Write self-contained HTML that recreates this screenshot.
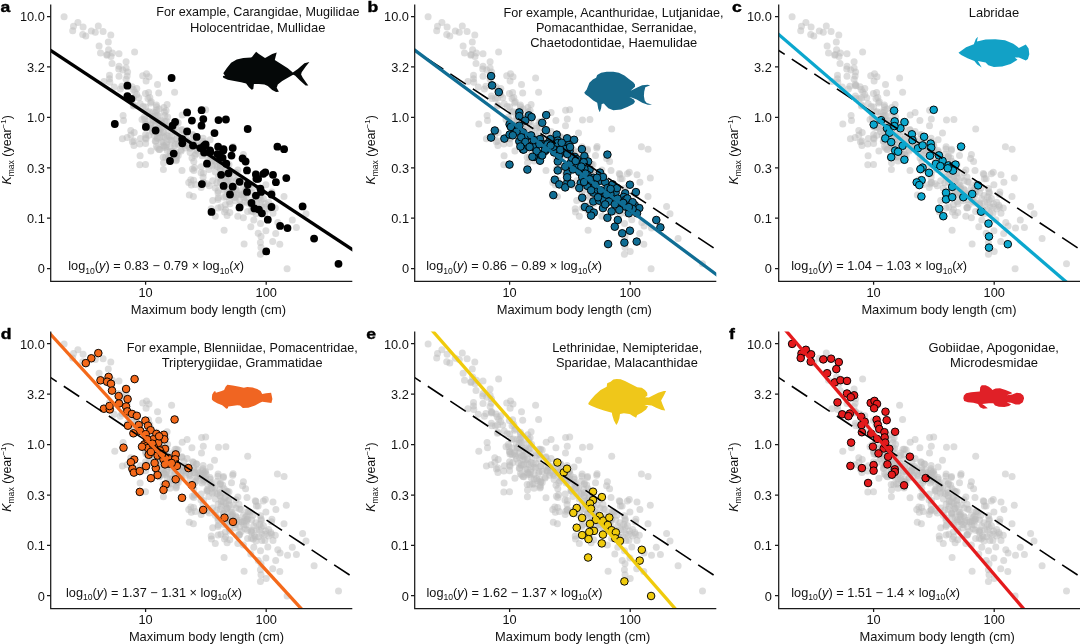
<!DOCTYPE html>
<html><head><meta charset="utf-8"><title>Figure</title>
<style>
html,body{margin:0;padding:0;background:#fff}
svg{display:block;will-change:transform}
text{font-family:"Liberation Sans",Arial,Helvetica,sans-serif;fill:#111}
.t{font-size:12.4px}
.lab{font-size:15.3px;font-weight:bold;fill:#000;stroke:#000;stroke-width:0.4px}
.ax{stroke:#1a1a1a;stroke-width:1.25;fill:none}
.g circle{fill:#bcbcbc;fill-opacity:0.5}
.dash{stroke:#000;stroke-width:1.6;stroke-dasharray:18.5 8.5;stroke-dashoffset:2.35;fill:none}
</style></head><body>
<svg width="1080" height="644" viewBox="0 0 1080 644">
<rect width="1080" height="644" fill="#fff"/>
<defs><clipPath id="cp"><rect x="50.7" y="4.4" width="301.6" height="277.0"/></clipPath>
<g id="grey" class="g">
<circle cx="171.6" cy="78.0" r="3.5"/>
<circle cx="127.4" cy="85.7" r="3.5"/>
<circle cx="127.4" cy="96.1" r="3.5"/>
<circle cx="131.4" cy="98.8" r="3.5"/>
<circle cx="114.8" cy="124.0" r="3.5"/>
<circle cx="145.9" cy="126.9" r="3.5"/>
<circle cx="155.6" cy="130.5" r="3.5"/>
<circle cx="187.1" cy="112.4" r="3.5"/>
<circle cx="201.6" cy="110.2" r="3.5"/>
<circle cx="191.9" cy="120.6" r="3.5"/>
<circle cx="203.3" cy="119.1" r="3.5"/>
<circle cx="201.5" cy="125.7" r="3.5"/>
<circle cx="218.5" cy="120.1" r="3.5"/>
<circle cx="225.9" cy="119.5" r="3.5"/>
<circle cx="247.7" cy="129.0" r="3.5"/>
<circle cx="214.5" cy="133.1" r="3.5"/>
<circle cx="175.1" cy="122.0" r="3.5"/>
<circle cx="172.6" cy="125.7" r="3.5"/>
<circle cx="187.1" cy="131.4" r="3.5"/>
<circle cx="196.7" cy="136.9" r="3.5"/>
<circle cx="182.2" cy="139.1" r="3.5"/>
<circle cx="173.7" cy="153.6" r="3.5"/>
<circle cx="170.0" cy="161.0" r="3.5"/>
<circle cx="182.3" cy="143.3" r="3.5"/>
<circle cx="193.0" cy="145.6" r="3.5"/>
<circle cx="200.4" cy="148.1" r="3.5"/>
<circle cx="205.6" cy="144.4" r="3.5"/>
<circle cx="204.1" cy="152.6" r="3.5"/>
<circle cx="210.0" cy="150.4" r="3.5"/>
<circle cx="207.0" cy="163.7" r="3.5"/>
<circle cx="218.1" cy="146.7" r="3.5"/>
<circle cx="223.3" cy="150.4" r="3.5"/>
<circle cx="217.4" cy="154.1" r="3.5"/>
<circle cx="222.6" cy="157.8" r="3.5"/>
<circle cx="226.3" cy="163.7" r="3.5"/>
<circle cx="232.7" cy="148.1" r="3.5"/>
<circle cx="231.5" cy="155.6" r="3.5"/>
<circle cx="242.6" cy="158.5" r="3.5"/>
<circle cx="245.6" cy="161.5" r="3.5"/>
<circle cx="247.0" cy="170.4" r="3.5"/>
<circle cx="277.4" cy="146.7" r="3.5"/>
<circle cx="284.1" cy="149.2" r="3.5"/>
<circle cx="221.1" cy="174.8" r="3.5"/>
<circle cx="228.5" cy="173.3" r="3.5"/>
<circle cx="201.9" cy="184.1" r="3.5"/>
<circle cx="223.6" cy="185.9" r="3.5"/>
<circle cx="232.7" cy="186.7" r="3.5"/>
<circle cx="239.6" cy="181.8" r="3.5"/>
<circle cx="247.8" cy="184.4" r="3.5"/>
<circle cx="230.0" cy="194.5" r="3.5"/>
<circle cx="247.0" cy="191.9" r="3.5"/>
<circle cx="255.9" cy="174.4" r="3.5"/>
<circle cx="258.1" cy="178.8" r="3.5"/>
<circle cx="265.3" cy="172.3" r="3.5"/>
<circle cx="273.0" cy="174.8" r="3.5"/>
<circle cx="275.9" cy="182.2" r="3.5"/>
<circle cx="286.3" cy="178.1" r="3.5"/>
<circle cx="260.4" cy="188.6" r="3.5"/>
<circle cx="255.9" cy="195.6" r="3.5"/>
<circle cx="261.1" cy="191.9" r="3.5"/>
<circle cx="271.5" cy="194.5" r="3.5"/>
<circle cx="251.5" cy="203.0" r="3.5"/>
<circle cx="239.6" cy="207.4" r="3.5"/>
<circle cx="211.5" cy="211.9" r="3.5"/>
<circle cx="254.4" cy="208.4" r="3.5"/>
<circle cx="258.9" cy="209.6" r="3.5"/>
<circle cx="261.9" cy="213.3" r="3.5"/>
<circle cx="271.5" cy="207.0" r="3.5"/>
<circle cx="267.8" cy="219.7" r="3.5"/>
<circle cx="302.6" cy="206.4" r="3.5"/>
<circle cx="280.1" cy="225.9" r="3.5"/>
<circle cx="287.5" cy="228.1" r="3.5"/>
<circle cx="314.1" cy="238.6" r="3.5"/>
<circle cx="266.2" cy="251.4" r="3.5"/>
<circle cx="338.5" cy="263.8" r="3.5"/>
<circle cx="210.3" cy="152.0" r="3.5"/>
<circle cx="220.1" cy="157.0" r="3.5"/>
<circle cx="223.5" cy="149.2" r="3.5"/>
<circle cx="203.9" cy="145.9" r="3.5"/>
<circle cx="263.4" cy="173.8" r="3.5"/>
<circle cx="256.4" cy="178.8" r="3.5"/>
<circle cx="127.1" cy="76.1" r="3.5"/>
<circle cx="128.1" cy="85.4" r="3.5"/>
<circle cx="134.8" cy="92.1" r="3.5"/>
<circle cx="155.3" cy="112.4" r="3.5"/>
<circle cx="155.3" cy="116.1" r="3.5"/>
<circle cx="164.9" cy="115.4" r="3.5"/>
<circle cx="167.6" cy="117.1" r="3.5"/>
<circle cx="182.2" cy="115.1" r="3.5"/>
<circle cx="161.2" cy="120.6" r="3.5"/>
<circle cx="145.6" cy="124.3" r="3.5"/>
<circle cx="151.6" cy="128.7" r="3.5"/>
<circle cx="155.3" cy="125.7" r="3.5"/>
<circle cx="178.2" cy="122.8" r="3.5"/>
<circle cx="181.9" cy="130.2" r="3.5"/>
<circle cx="130.8" cy="130.5" r="3.5"/>
<circle cx="127.1" cy="137.6" r="3.5"/>
<circle cx="140.4" cy="138.6" r="3.5"/>
<circle cx="145.6" cy="134.6" r="3.5"/>
<circle cx="159.0" cy="132.4" r="3.5"/>
<circle cx="155.3" cy="141.3" r="3.5"/>
<circle cx="163.4" cy="136.1" r="3.5"/>
<circle cx="167.1" cy="135.4" r="3.5"/>
<circle cx="171.6" cy="140.6" r="3.5"/>
<circle cx="176.0" cy="139.1" r="3.5"/>
<circle cx="163.4" cy="145.7" r="3.5"/>
<circle cx="159.0" cy="149.4" r="3.5"/>
<circle cx="170.1" cy="147.2" r="3.5"/>
<circle cx="178.2" cy="144.3" r="3.5"/>
<circle cx="183.4" cy="143.5" r="3.5"/>
<circle cx="186.4" cy="139.1" r="3.5"/>
<circle cx="192.7" cy="134.6" r="3.5"/>
<circle cx="193.8" cy="140.6" r="3.5"/>
<circle cx="203.1" cy="138.3" r="3.5"/>
<circle cx="210.1" cy="139.8" r="3.5"/>
<circle cx="204.9" cy="145.0" r="3.5"/>
<circle cx="199.0" cy="146.5" r="3.5"/>
<circle cx="185.6" cy="148.0" r="3.5"/>
<circle cx="181.2" cy="150.9" r="3.5"/>
<circle cx="176.7" cy="154.6" r="3.5"/>
<circle cx="170.1" cy="156.9" r="3.5"/>
<circle cx="190.1" cy="152.4" r="3.5"/>
<circle cx="196.0" cy="153.9" r="3.5"/>
<circle cx="204.9" cy="151.7" r="3.5"/>
<circle cx="217.9" cy="149.1" r="3.5"/>
<circle cx="220.4" cy="156.1" r="3.5"/>
<circle cx="243.4" cy="154.6" r="3.5"/>
<circle cx="210.8" cy="156.9" r="3.5"/>
<circle cx="163.4" cy="169.6" r="3.5"/>
<circle cx="176.0" cy="160.7" r="3.5"/>
<circle cx="193.8" cy="161.5" r="3.5"/>
<circle cx="193.8" cy="170.4" r="3.5"/>
<circle cx="190.8" cy="179.7" r="3.5"/>
<circle cx="195.3" cy="184.4" r="3.5"/>
<circle cx="203.4" cy="173.3" r="3.5"/>
<circle cx="203.4" cy="182.2" r="3.5"/>
<circle cx="201.2" cy="187.4" r="3.5"/>
<circle cx="207.1" cy="183.7" r="3.5"/>
<circle cx="189.3" cy="195.1" r="3.5"/>
<circle cx="207.1" cy="162.2" r="3.5"/>
<circle cx="214.5" cy="165.2" r="3.5"/>
<circle cx="224.1" cy="161.5" r="3.5"/>
<circle cx="215.3" cy="171.9" r="3.5"/>
<circle cx="225.6" cy="169.6" r="3.5"/>
<circle cx="236.0" cy="172.6" r="3.5"/>
<circle cx="221.2" cy="179.3" r="3.5"/>
<circle cx="229.3" cy="177.8" r="3.5"/>
<circle cx="216.7" cy="183.0" r="3.5"/>
<circle cx="215.3" cy="188.1" r="3.5"/>
<circle cx="223.4" cy="185.9" r="3.5"/>
<circle cx="236.0" cy="180.7" r="3.5"/>
<circle cx="241.2" cy="182.2" r="3.5"/>
<circle cx="231.6" cy="188.1" r="3.5"/>
<circle cx="229.3" cy="192.6" r="3.5"/>
<circle cx="236.7" cy="194.8" r="3.5"/>
<circle cx="248.6" cy="184.4" r="3.5"/>
<circle cx="247.9" cy="191.9" r="3.5"/>
<circle cx="251.6" cy="192.6" r="3.5"/>
<circle cx="246.4" cy="197.8" r="3.5"/>
<circle cx="218.2" cy="197.8" r="3.5"/>
<circle cx="229.3" cy="201.5" r="3.5"/>
<circle cx="235.3" cy="200.7" r="3.5"/>
<circle cx="239.0" cy="208.1" r="3.5"/>
<circle cx="220.9" cy="207.0" r="3.5"/>
<circle cx="225.6" cy="209.6" r="3.5"/>
<circle cx="229.8" cy="212.6" r="3.5"/>
<circle cx="227.1" cy="215.6" r="3.5"/>
<circle cx="265.9" cy="184.7" r="3.5"/>
<circle cx="271.9" cy="192.1" r="3.5"/>
<circle cx="261.2" cy="193.3" r="3.5"/>
<circle cx="259.7" cy="197.0" r="3.5"/>
<circle cx="261.2" cy="200.0" r="3.5"/>
<circle cx="265.6" cy="203.7" r="3.5"/>
<circle cx="270.8" cy="205.2" r="3.5"/>
<circle cx="275.3" cy="208.1" r="3.5"/>
<circle cx="264.9" cy="213.3" r="3.5"/>
<circle cx="273.0" cy="213.3" r="3.5"/>
<circle cx="255.3" cy="209.9" r="3.5"/>
<circle cx="247.6" cy="211.4" r="3.5"/>
<circle cx="243.4" cy="217.8" r="3.5"/>
<circle cx="253.8" cy="220.0" r="3.5"/>
<circle cx="250.8" cy="226.7" r="3.5"/>
<circle cx="258.2" cy="233.3" r="3.5"/>
<circle cx="265.9" cy="230.7" r="3.5"/>
<circle cx="292.3" cy="220.0" r="3.5"/>
<circle cx="296.4" cy="227.4" r="3.5"/>
<circle cx="203.1" cy="177.3" r="3.5"/>
<circle cx="201.2" cy="166.7" r="3.5"/>
<circle cx="205.6" cy="151.1" r="3.5"/>
<circle cx="207.9" cy="157.8" r="3.5"/>
<circle cx="200.4" cy="148.9" r="3.5"/>
<circle cx="213.0" cy="159.3" r="3.5"/>
<circle cx="220.4" cy="168.9" r="3.5"/>
<circle cx="223.4" cy="174.8" r="3.5"/>
<circle cx="218.2" cy="177.0" r="3.5"/>
<circle cx="230.1" cy="184.4" r="3.5"/>
<circle cx="233.0" cy="189.6" r="3.5"/>
<circle cx="227.1" cy="180.7" r="3.5"/>
<circle cx="239.0" cy="177.0" r="3.5"/>
<circle cx="243.4" cy="188.1" r="3.5"/>
<circle cx="241.2" cy="194.8" r="3.5"/>
<circle cx="239.7" cy="200.0" r="3.5"/>
<circle cx="244.9" cy="201.5" r="3.5"/>
<circle cx="253.0" cy="188.1" r="3.5"/>
<circle cx="263.4" cy="198.5" r="3.5"/>
<circle cx="268.6" cy="202.2" r="3.5"/>
<circle cx="268.6" cy="208.9" r="3.5"/>
<circle cx="241.2" cy="204.4" r="3.5"/>
<circle cx="159.7" cy="149.6" r="3.5"/>
<circle cx="164.1" cy="145.9" r="3.5"/>
<circle cx="183.4" cy="144.4" r="3.5"/>
<circle cx="176.7" cy="154.8" r="3.5"/>
<circle cx="194.8" cy="155.6" r="3.5"/>
<circle cx="189.3" cy="146.7" r="3.5"/>
<circle cx="193.8" cy="143.0" r="3.5"/>
<circle cx="219.7" cy="162.2" r="3.5"/>
<circle cx="233.0" cy="177.8" r="3.5"/>
<circle cx="246.4" cy="194.1" r="3.5"/>
<circle cx="256.7" cy="202.2" r="3.5"/>
<circle cx="261.9" cy="206.7" r="3.5"/>
<circle cx="145.5" cy="164.6" r="3.5"/>
<circle cx="146.9" cy="126.9" r="3.5"/>
<circle cx="152.5" cy="131.7" r="3.5"/>
<circle cx="157.2" cy="137.3" r="3.5"/>
<circle cx="161.4" cy="142.0" r="3.5"/>
<circle cx="165.6" cy="147.0" r="3.5"/>
<circle cx="156.4" cy="146.5" r="3.5"/>
<circle cx="148.8" cy="135.3" r="3.5"/>
<circle cx="169.8" cy="140.1" r="3.5"/>
<circle cx="175.4" cy="144.2" r="3.5"/>
<circle cx="181.0" cy="149.8" r="3.5"/>
<circle cx="172.6" cy="151.2" r="3.5"/>
<circle cx="168.4" cy="156.8" r="3.5"/>
<circle cx="178.2" cy="155.4" r="3.5"/>
<circle cx="186.6" cy="145.6" r="3.5"/>
<circle cx="196.3" cy="149.8" r="3.5"/>
<circle cx="203.3" cy="154.0" r="3.5"/>
<circle cx="197.7" cy="142.8" r="3.5"/>
<circle cx="206.1" cy="147.0" r="3.5"/>
<circle cx="211.7" cy="161.0" r="3.5"/>
<circle cx="217.3" cy="166.6" r="3.5"/>
<circle cx="208.9" cy="169.4" r="3.5"/>
<circle cx="221.5" cy="173.6" r="3.5"/>
<circle cx="225.7" cy="179.2" r="3.5"/>
<circle cx="231.3" cy="184.7" r="3.5"/>
<circle cx="220.1" cy="182.0" r="3.5"/>
<circle cx="236.8" cy="190.3" r="3.5"/>
<circle cx="242.4" cy="194.5" r="3.5"/>
<circle cx="246.6" cy="188.9" r="3.5"/>
<circle cx="253.6" cy="198.7" r="3.5"/>
<circle cx="259.2" cy="202.9" r="3.5"/>
<circle cx="264.8" cy="207.1" r="3.5"/>
<circle cx="250.8" cy="204.3" r="3.5"/>
<circle cx="234.0" cy="197.3" r="3.5"/>
<circle cx="227.1" cy="190.3" r="3.5"/>
<circle cx="244.1" cy="244.1" r="3.5"/>
<circle cx="260.4" cy="242.6" r="3.5"/>
<circle cx="272.7" cy="241.6" r="3.5"/>
<circle cx="166.1" cy="110.6" r="3.5"/>
<circle cx="205.7" cy="109.8" r="3.5"/>
<circle cx="145.7" cy="124.6" r="3.5"/>
<circle cx="153.1" cy="120.2" r="3.5"/>
<circle cx="166.7" cy="121.4" r="3.5"/>
<circle cx="176.5" cy="122.1" r="3.5"/>
<circle cx="159.0" cy="128.3" r="3.5"/>
<circle cx="172.4" cy="128.3" r="3.5"/>
<circle cx="166.4" cy="126.1" r="3.5"/>
<circle cx="161.3" cy="132.8" r="3.5"/>
<circle cx="157.3" cy="138.4" r="3.5"/>
<circle cx="163.2" cy="142.1" r="3.5"/>
<circle cx="183.9" cy="134.3" r="3.5"/>
<circle cx="184.5" cy="140.2" r="3.5"/>
<circle cx="196.1" cy="136.8" r="3.5"/>
<circle cx="174.6" cy="145.8" r="3.5"/>
<circle cx="167.2" cy="150.6" r="3.5"/>
<circle cx="170.1" cy="151.7" r="3.5"/>
<circle cx="163.2" cy="157.2" r="3.5"/>
<circle cx="176.4" cy="159.7" r="3.5"/>
<circle cx="189.9" cy="148.3" r="3.5"/>
<circle cx="194.6" cy="145.4" r="3.5"/>
<circle cx="202.7" cy="143.6" r="3.5"/>
<circle cx="203.2" cy="147.6" r="3.5"/>
<circle cx="202.0" cy="155.7" r="3.5"/>
<circle cx="210.9" cy="155.4" r="3.5"/>
<circle cx="233.1" cy="146.6" r="3.5"/>
<circle cx="214.6" cy="160.9" r="3.5"/>
<circle cx="207.9" cy="163.9" r="3.5"/>
<circle cx="212.4" cy="166.1" r="3.5"/>
<circle cx="220.5" cy="165.4" r="3.5"/>
<circle cx="227.5" cy="164.6" r="3.5"/>
<circle cx="225.0" cy="170.6" r="3.5"/>
<circle cx="219.8" cy="168.3" r="3.5"/>
<circle cx="194.6" cy="167.6" r="3.5"/>
<circle cx="192.4" cy="169.1" r="3.5"/>
<circle cx="201.0" cy="172.8" r="3.5"/>
<circle cx="193.6" cy="180.2" r="3.5"/>
<circle cx="188.7" cy="182.4" r="3.5"/>
<circle cx="191.3" cy="185.1" r="3.5"/>
<circle cx="250.1" cy="185.4" r="3.5"/>
<circle cx="224.2" cy="186.9" r="3.5"/>
<circle cx="193.4" cy="196.5" r="3.5"/>
<circle cx="218.0" cy="192.8" r="3.5"/>
<circle cx="218.0" cy="199.4" r="3.5"/>
<circle cx="224.2" cy="197.2" r="3.5"/>
<circle cx="235.3" cy="197.2" r="3.5"/>
<circle cx="244.2" cy="194.0" r="3.5"/>
<circle cx="211.2" cy="208.8" r="3.5"/>
<circle cx="215.3" cy="216.2" r="3.5"/>
<circle cx="253.1" cy="211.7" r="3.5"/>
<circle cx="260.5" cy="223.6" r="3.5"/>
<circle cx="261.0" cy="236.5" r="3.5"/>
<circle cx="261.0" cy="247.6" r="3.5"/>
<circle cx="279.8" cy="244.2" r="3.5"/>
<circle cx="98.3" cy="25.9" r="3.5"/>
<circle cx="91.3" cy="31.1" r="3.5"/>
<circle cx="85.8" cy="35.9" r="3.5"/>
<circle cx="100.5" cy="53.1" r="3.5"/>
<circle cx="108.6" cy="49.7" r="3.5"/>
<circle cx="107.1" cy="54.5" r="3.5"/>
<circle cx="111.0" cy="56.6" r="3.5"/>
<circle cx="134.6" cy="51.9" r="3.5"/>
<circle cx="112.0" cy="63.4" r="3.5"/>
<circle cx="126.1" cy="61.8" r="3.5"/>
<circle cx="118.7" cy="68.9" r="3.5"/>
<circle cx="127.6" cy="71.9" r="3.5"/>
<circle cx="119.0" cy="76.3" r="3.5"/>
<circle cx="126.1" cy="79.3" r="3.5"/>
<circle cx="103.9" cy="81.5" r="3.5"/>
<circle cx="109.8" cy="82.2" r="3.5"/>
<circle cx="109.5" cy="78.8" r="3.5"/>
<circle cx="127.3" cy="84.2" r="3.5"/>
<circle cx="132.0" cy="86.7" r="3.5"/>
<circle cx="136.8" cy="88.6" r="3.5"/>
<circle cx="145.4" cy="93.4" r="3.5"/>
<circle cx="174.6" cy="92.3" r="3.5"/>
<circle cx="127.9" cy="98.5" r="3.5"/>
<circle cx="138.7" cy="97.8" r="3.5"/>
<circle cx="148.0" cy="98.5" r="3.5"/>
<circle cx="150.6" cy="103.0" r="3.5"/>
<circle cx="140.2" cy="103.7" r="3.5"/>
<circle cx="133.4" cy="106.1" r="3.5"/>
<circle cx="156.4" cy="106.7" r="3.5"/>
<circle cx="163.8" cy="107.6" r="3.5"/>
<circle cx="145.7" cy="106.9" r="3.5"/>
<circle cx="164.3" cy="112.1" r="3.5"/>
<circle cx="153.1" cy="112.1" r="3.5"/>
<circle cx="158.3" cy="115.8" r="3.5"/>
<circle cx="144.3" cy="117.2" r="3.5"/>
<circle cx="148.0" cy="120.9" r="3.5"/>
<circle cx="153.9" cy="120.2" r="3.5"/>
<circle cx="165.0" cy="121.7" r="3.5"/>
<circle cx="123.5" cy="120.5" r="3.5"/>
<circle cx="148.7" cy="127.6" r="3.5"/>
<circle cx="157.6" cy="128.4" r="3.5"/>
<circle cx="163.5" cy="132.1" r="3.5"/>
<circle cx="168.0" cy="130.6" r="3.5"/>
<circle cx="175.7" cy="127.2" r="3.5"/>
<circle cx="175.1" cy="132.1" r="3.5"/>
<circle cx="169.4" cy="136.5" r="3.5"/>
<circle cx="176.9" cy="138.7" r="3.5"/>
<circle cx="188.4" cy="140.9" r="3.5"/>
<circle cx="134.2" cy="132.4" r="3.5"/>
<circle cx="130.9" cy="135.0" r="3.5"/>
<circle cx="132.4" cy="141.7" r="3.5"/>
<circle cx="133.9" cy="145.4" r="3.5"/>
<circle cx="139.8" cy="143.9" r="3.5"/>
<circle cx="146.0" cy="139.0" r="3.5"/>
<circle cx="155.8" cy="140.9" r="3.5"/>
<circle cx="157.6" cy="147.9" r="3.5"/>
<circle cx="150.9" cy="151.0" r="3.5"/>
<circle cx="175.7" cy="152.1" r="3.5"/>
<circle cx="165.7" cy="157.2" r="3.5"/>
<circle cx="163.5" cy="162.7" r="3.5"/>
<circle cx="139.8" cy="164.7" r="3.5"/>
<circle cx="192.0" cy="158.0" r="3.5"/>
<circle cx="182.0" cy="170.6" r="3.5"/>
<circle cx="203.2" cy="182.7" r="3.5"/>
<circle cx="150.9" cy="124.7" r="3.5"/>
<circle cx="159.8" cy="123.2" r="3.5"/>
<circle cx="154.6" cy="135.8" r="3.5"/>
<circle cx="165.0" cy="137.2" r="3.5"/>
<circle cx="171.7" cy="135.8" r="3.5"/>
<circle cx="147.2" cy="112.1" r="3.5"/>
<circle cx="159.1" cy="109.1" r="3.5"/>
<circle cx="142.0" cy="119.5" r="3.5"/>
<circle cx="152.4" cy="116.5" r="3.5"/>
<circle cx="162.0" cy="126.9" r="3.5"/>
<circle cx="224.5" cy="190.5" r="3.5"/>
<circle cx="233.0" cy="194.7" r="3.5"/>
<circle cx="193.4" cy="135.3" r="3.5"/>
<circle cx="199.8" cy="145.2" r="3.5"/>
<circle cx="203.0" cy="141.5" r="3.5"/>
<circle cx="229.0" cy="164.5" r="3.5"/>
<circle cx="237.9" cy="169.9" r="3.5"/>
<circle cx="229.0" cy="172.9" r="3.5"/>
<circle cx="226.0" cy="176.3" r="3.5"/>
<circle cx="227.0" cy="181.5" r="3.5"/>
<circle cx="212.7" cy="180.8" r="3.5"/>
<circle cx="209.3" cy="185.7" r="3.5"/>
<circle cx="218.1" cy="190.7" r="3.5"/>
<circle cx="235.6" cy="188.9" r="3.5"/>
<circle cx="231.9" cy="192.6" r="3.5"/>
<circle cx="239.3" cy="193.4" r="3.5"/>
<circle cx="245.3" cy="190.4" r="3.5"/>
<circle cx="243.8" cy="197.8" r="3.5"/>
<circle cx="226.0" cy="196.6" r="3.5"/>
<circle cx="212.7" cy="200.5" r="3.5"/>
<circle cx="230.0" cy="203.7" r="3.5"/>
<circle cx="225.3" cy="204.8" r="3.5"/>
<circle cx="218.1" cy="207.9" r="3.5"/>
<circle cx="238.9" cy="207.4" r="3.5"/>
<circle cx="247.5" cy="203.0" r="3.5"/>
<circle cx="251.9" cy="205.2" r="3.5"/>
<circle cx="224.5" cy="211.9" r="3.5"/>
<circle cx="251.2" cy="211.1" r="3.5"/>
<circle cx="237.8" cy="216.2" r="3.5"/>
<circle cx="256.0" cy="213.7" r="3.5"/>
<circle cx="277.8" cy="222.6" r="3.5"/>
<circle cx="275.7" cy="233.4" r="3.5"/>
<circle cx="224.1" cy="230.3" r="3.5"/>
<circle cx="260.4" cy="254.2" r="3.5"/>
<circle cx="287.1" cy="268.8" r="3.5"/>
<circle cx="64.1" cy="16.7" r="3.5"/>
<circle cx="77.9" cy="22.6" r="3.5"/>
<circle cx="73.5" cy="26.3" r="3.5"/>
<circle cx="72.7" cy="30.8" r="3.5"/>
<circle cx="83.1" cy="27.1" r="3.5"/>
<circle cx="82.7" cy="34.5" r="3.5"/>
<circle cx="95.3" cy="32.2" r="3.5"/>
<circle cx="103.1" cy="31.5" r="3.5"/>
<circle cx="110.8" cy="34.9" r="3.5"/>
<circle cx="108.3" cy="41.9" r="3.5"/>
<circle cx="99.1" cy="46.0" r="3.5"/>
<circle cx="106.8" cy="55.2" r="3.5"/>
<circle cx="112.4" cy="53.0" r="3.5"/>
<circle cx="119.0" cy="53.7" r="3.5"/>
<circle cx="119.0" cy="66.3" r="3.5"/>
<circle cx="126.1" cy="68.1" r="3.5"/>
<circle cx="122.8" cy="70.0" r="3.5"/>
<circle cx="109.5" cy="75.2" r="3.5"/>
<circle cx="142.7" cy="75.7" r="3.5"/>
<circle cx="146.5" cy="73.7" r="3.5"/>
<circle cx="149.0" cy="76.7" r="3.5"/>
<circle cx="146.1" cy="81.1" r="3.5"/>
<circle cx="157.5" cy="84.5" r="3.5"/>
<circle cx="114.2" cy="87.1" r="3.5"/>
<circle cx="121.9" cy="86.3" r="3.5"/>
<circle cx="120.4" cy="89.0" r="3.5"/>
<circle cx="133.2" cy="89.6" r="3.5"/>
<circle cx="136.7" cy="94.5" r="3.5"/>
<circle cx="133.5" cy="97.9" r="3.5"/>
<circle cx="148.6" cy="92.5" r="3.5"/>
<circle cx="158.7" cy="93.0" r="3.5"/>
<circle cx="149.8" cy="97.4" r="3.5"/>
<circle cx="133.9" cy="105.0" r="3.5"/>
<circle cx="143.1" cy="106.5" r="3.5"/>
<circle cx="151.3" cy="101.8" r="3.5"/>
<circle cx="156.4" cy="105.0" r="3.5"/>
<circle cx="156.7" cy="110.2" r="3.5"/>
<circle cx="149.0" cy="111.7" r="3.5"/>
<circle cx="157.2" cy="115.4" r="3.5"/>
<circle cx="167.1" cy="104.6" r="3.5"/>
<circle cx="123.1" cy="115.4" r="3.5"/>
<circle cx="144.9" cy="119.5" r="3.5"/>
<circle cx="155.7" cy="121.3" r="3.5"/>
<circle cx="161.3" cy="121.6" r="3.5"/>
<circle cx="150.5" cy="126.2" r="3.5"/>
<circle cx="160.1" cy="129.5" r="3.5"/>
<circle cx="181.9" cy="129.5" r="3.5"/>
<circle cx="122.4" cy="138.7" r="3.5"/>
<circle cx="133.9" cy="140.9" r="3.5"/>
<circle cx="145.6" cy="137.9" r="3.5"/>
<circle cx="145.6" cy="143.5" r="3.5"/>
<circle cx="159.4" cy="137.2" r="3.5"/>
<circle cx="166.8" cy="142.1" r="3.5"/>
<circle cx="166.8" cy="144.7" r="3.5"/>
<circle cx="163.9" cy="147.5" r="3.5"/>
<circle cx="197.6" cy="150.9" r="3.5"/>
<circle cx="140.1" cy="155.8" r="3.5"/>
<circle cx="176.1" cy="158.1" r="3.5"/>
<circle cx="306.0" cy="213.8" r="3.5"/>
<circle cx="284.0" cy="196.5" r="3.5"/>
<circle cx="255.3" cy="173.6" r="3.5"/>
</g></defs>
<g transform="translate(0,0)">
<text class="lab" transform="translate(0.60,12.2) scale(1.15,1)">a</text>
<use href="#grey"/>
<g fill="#000000" stroke="#000" stroke-width="0"><circle cx="171.6" cy="78.0" r="3.9"/><circle cx="127.4" cy="85.7" r="3.9"/><circle cx="127.4" cy="96.1" r="3.9"/><circle cx="131.4" cy="98.8" r="3.9"/><circle cx="114.8" cy="124.0" r="3.9"/><circle cx="145.9" cy="126.9" r="3.9"/><circle cx="155.6" cy="130.5" r="3.9"/><circle cx="187.1" cy="112.4" r="3.9"/><circle cx="201.6" cy="110.2" r="3.9"/><circle cx="191.9" cy="120.6" r="3.9"/><circle cx="203.3" cy="119.1" r="3.9"/><circle cx="201.5" cy="125.7" r="3.9"/><circle cx="218.5" cy="120.1" r="3.9"/><circle cx="225.9" cy="119.5" r="3.9"/><circle cx="247.7" cy="129.0" r="3.9"/><circle cx="214.5" cy="133.1" r="3.9"/><circle cx="175.1" cy="122.0" r="3.9"/><circle cx="172.6" cy="125.7" r="3.9"/><circle cx="187.1" cy="131.4" r="3.9"/><circle cx="196.7" cy="136.9" r="3.9"/><circle cx="182.2" cy="139.1" r="3.9"/><circle cx="173.7" cy="153.6" r="3.9"/><circle cx="170.0" cy="161.0" r="3.9"/><circle cx="182.3" cy="143.3" r="3.9"/><circle cx="193.0" cy="145.6" r="3.9"/><circle cx="200.4" cy="148.1" r="3.9"/><circle cx="205.6" cy="144.4" r="3.9"/><circle cx="204.1" cy="152.6" r="3.9"/><circle cx="210.0" cy="150.4" r="3.9"/><circle cx="207.0" cy="163.7" r="3.9"/><circle cx="218.1" cy="146.7" r="3.9"/><circle cx="223.3" cy="150.4" r="3.9"/><circle cx="217.4" cy="154.1" r="3.9"/><circle cx="222.6" cy="157.8" r="3.9"/><circle cx="226.3" cy="163.7" r="3.9"/><circle cx="232.7" cy="148.1" r="3.9"/><circle cx="231.5" cy="155.6" r="3.9"/><circle cx="242.6" cy="158.5" r="3.9"/><circle cx="245.6" cy="161.5" r="3.9"/><circle cx="247.0" cy="170.4" r="3.9"/><circle cx="277.4" cy="146.7" r="3.9"/><circle cx="284.1" cy="149.2" r="3.9"/><circle cx="221.1" cy="174.8" r="3.9"/><circle cx="228.5" cy="173.3" r="3.9"/><circle cx="201.9" cy="184.1" r="3.9"/><circle cx="223.6" cy="185.9" r="3.9"/><circle cx="232.7" cy="186.7" r="3.9"/><circle cx="239.6" cy="181.8" r="3.9"/><circle cx="247.8" cy="184.4" r="3.9"/><circle cx="230.0" cy="194.5" r="3.9"/><circle cx="247.0" cy="191.9" r="3.9"/><circle cx="255.9" cy="174.4" r="3.9"/><circle cx="258.1" cy="178.8" r="3.9"/><circle cx="265.3" cy="172.3" r="3.9"/><circle cx="273.0" cy="174.8" r="3.9"/><circle cx="275.9" cy="182.2" r="3.9"/><circle cx="286.3" cy="178.1" r="3.9"/><circle cx="260.4" cy="188.6" r="3.9"/><circle cx="255.9" cy="195.6" r="3.9"/><circle cx="261.1" cy="191.9" r="3.9"/><circle cx="271.5" cy="194.5" r="3.9"/><circle cx="251.5" cy="203.0" r="3.9"/><circle cx="239.6" cy="207.4" r="3.9"/><circle cx="211.5" cy="211.9" r="3.9"/><circle cx="254.4" cy="208.4" r="3.9"/><circle cx="258.9" cy="209.6" r="3.9"/><circle cx="261.9" cy="213.3" r="3.9"/><circle cx="271.5" cy="207.0" r="3.9"/><circle cx="267.8" cy="219.7" r="3.9"/><circle cx="302.6" cy="206.4" r="3.9"/><circle cx="280.1" cy="225.9" r="3.9"/><circle cx="287.5" cy="228.1" r="3.9"/><circle cx="314.1" cy="238.6" r="3.9"/><circle cx="266.2" cy="251.4" r="3.9"/><circle cx="338.5" cy="263.8" r="3.9"/><circle cx="210.3" cy="152.0" r="3.9"/><circle cx="220.1" cy="157.0" r="3.9"/><circle cx="223.5" cy="149.2" r="3.9"/><circle cx="203.9" cy="145.9" r="3.9"/><circle cx="263.4" cy="173.8" r="3.9"/><circle cx="256.4" cy="178.8" r="3.9"/></g>
<g clip-path="url(#cp)"><line x1="20.7" y1="30.6" x2="382.3" y2="269.4" stroke="#000000" stroke-width="3.3"/></g>
<path class="ax" d="M50.7 4.4V281.4H352.3"/>
<path class="ax" d="M47.0 16.5H50.7M47.0 66.9H50.7M47.0 117.3H50.7M47.0 167.8H50.7M47.0 218.1H50.7M47.0 268.5H50.7M145.6 281.4V284.79999999999995M266.2 281.4V284.79999999999995"/>
<text class="t" style="font-size:12.8px" x="44.8" y="21.40" text-anchor="end">10.0</text>
<text class="t" style="font-size:12.8px" x="44.8" y="71.80" text-anchor="end">3.2</text>
<text class="t" style="font-size:12.8px" x="44.8" y="122.20" text-anchor="end">1.0</text>
<text class="t" style="font-size:12.8px" x="44.8" y="172.60" text-anchor="end">0.3</text>
<text class="t" style="font-size:12.8px" x="44.8" y="223.00" text-anchor="end">0.1</text>
<text class="t" style="font-size:12.8px" x="44.8" y="273.40" text-anchor="end">0</text>
<text class="t" style="font-size:12.8px" x="145.6" y="296.9" text-anchor="middle">10</text>
<text class="t" style="font-size:12.8px" x="266.2" y="296.9" text-anchor="middle">100</text>
<text class="t" x="130.8" y="314.2" textLength="155.2" lengthAdjust="spacingAndGlyphs">Maximum body length (cm)</text>
<text class="t" transform="translate(10.6,184.6) rotate(-90)"><tspan font-style="italic">K</tspan><tspan font-size="8.6px" dy="3.2">max</tspan><tspan dy="-3.2"> (year</tspan><tspan font-size="8px" dy="-4.5">−1</tspan><tspan dy="4.5">)</tspan></text>
<text class="t" x="68.3" y="270.4" textLength="175.8" lengthAdjust="spacingAndGlyphs">log<tspan font-size="8.4px" dy="3.2">10</tspan><tspan dy="-3.2">(</tspan><tspan font-style="italic">y</tspan>) = 0.83 − 0.79 × log<tspan font-size="8.4px" dy="3.2">10</tspan><tspan dy="-3.2">(</tspan><tspan font-style="italic">x</tspan>)</text>
<text class="t" x="156.3" y="16.4" textLength="203.1" lengthAdjust="spacingAndGlyphs">For example, Carangidae, Mugilidae</text>
<text class="t" x="189.9" y="31.6" textLength="135.5" lengthAdjust="spacingAndGlyphs">Holocentridae, Mullidae</text>
<path d="M223.3 73.3L226.7 68.3L231.1 62.8L236.7 59.4L243.3 58.0L251.1 57.6L252.2 56.7L256.1 51.7L258.9 53.9L265.0 58.0L265.6 57.8L272.2 53.9L276.7 52.6L275.6 56.7L274.8 60.0L281.1 63.9L287.8 68.3L292.8 72.6L297.8 68.9L304.4 63.3L309.4 61.9L305.6 66.7L301.7 72.2L301.1 74.4L302.8 77.8L305.6 81.7L308.3 85.6L305.6 85.6L300.0 80.6L295.0 75.6L293.1 74.7L287.8 77.8L282.2 81.1L277.8 84.4L276.7 87.8L278.9 91.7L276.1 92.0L272.2 90.0L267.8 86.1L264.4 84.4L258.9 83.9L253.9 83.9L253.3 88.9L251.7 89.7L248.9 87.2L246.1 83.6L241.1 82.2L234.4 81.1L227.8 79.8L223.3 77.8L222.8 76.1L225.0 75.8Z" fill="#050808"/>
</g>
<g transform="translate(364,0)">
<text class="lab" transform="translate(3.50,12.2) scale(1.15,1)">b</text>
<use href="#grey"/>
<g fill="#0f6d94" stroke="#000" stroke-width="0.95"><circle cx="127.1" cy="76.1" r="3.8"/><circle cx="128.1" cy="85.4" r="3.8"/><circle cx="134.8" cy="92.1" r="3.8"/><circle cx="155.3" cy="112.4" r="3.8"/><circle cx="155.3" cy="116.1" r="3.8"/><circle cx="164.9" cy="115.4" r="3.8"/><circle cx="167.6" cy="117.1" r="3.8"/><circle cx="182.2" cy="115.1" r="3.8"/><circle cx="161.2" cy="120.6" r="3.8"/><circle cx="145.6" cy="124.3" r="3.8"/><circle cx="151.6" cy="128.7" r="3.8"/><circle cx="155.3" cy="125.7" r="3.8"/><circle cx="178.2" cy="122.8" r="3.8"/><circle cx="181.9" cy="130.2" r="3.8"/><circle cx="130.8" cy="130.5" r="3.8"/><circle cx="127.1" cy="137.6" r="3.8"/><circle cx="140.4" cy="138.6" r="3.8"/><circle cx="145.6" cy="134.6" r="3.8"/><circle cx="159.0" cy="132.4" r="3.8"/><circle cx="155.3" cy="141.3" r="3.8"/><circle cx="163.4" cy="136.1" r="3.8"/><circle cx="167.1" cy="135.4" r="3.8"/><circle cx="171.6" cy="140.6" r="3.8"/><circle cx="176.0" cy="139.1" r="3.8"/><circle cx="163.4" cy="145.7" r="3.8"/><circle cx="159.0" cy="149.4" r="3.8"/><circle cx="170.1" cy="147.2" r="3.8"/><circle cx="178.2" cy="144.3" r="3.8"/><circle cx="183.4" cy="143.5" r="3.8"/><circle cx="186.4" cy="139.1" r="3.8"/><circle cx="192.7" cy="134.6" r="3.8"/><circle cx="193.8" cy="140.6" r="3.8"/><circle cx="203.1" cy="138.3" r="3.8"/><circle cx="210.1" cy="139.8" r="3.8"/><circle cx="204.9" cy="145.0" r="3.8"/><circle cx="199.0" cy="146.5" r="3.8"/><circle cx="185.6" cy="148.0" r="3.8"/><circle cx="181.2" cy="150.9" r="3.8"/><circle cx="176.7" cy="154.6" r="3.8"/><circle cx="170.1" cy="156.9" r="3.8"/><circle cx="190.1" cy="152.4" r="3.8"/><circle cx="196.0" cy="153.9" r="3.8"/><circle cx="204.9" cy="151.7" r="3.8"/><circle cx="217.9" cy="149.1" r="3.8"/><circle cx="220.4" cy="156.1" r="3.8"/><circle cx="243.4" cy="154.6" r="3.8"/><circle cx="210.8" cy="156.9" r="3.8"/><circle cx="163.4" cy="169.6" r="3.8"/><circle cx="176.0" cy="160.7" r="3.8"/><circle cx="193.8" cy="161.5" r="3.8"/><circle cx="193.8" cy="170.4" r="3.8"/><circle cx="190.8" cy="179.7" r="3.8"/><circle cx="195.3" cy="184.4" r="3.8"/><circle cx="203.4" cy="173.3" r="3.8"/><circle cx="203.4" cy="182.2" r="3.8"/><circle cx="201.2" cy="187.4" r="3.8"/><circle cx="207.1" cy="183.7" r="3.8"/><circle cx="189.3" cy="195.1" r="3.8"/><circle cx="207.1" cy="162.2" r="3.8"/><circle cx="214.5" cy="165.2" r="3.8"/><circle cx="224.1" cy="161.5" r="3.8"/><circle cx="215.3" cy="171.9" r="3.8"/><circle cx="225.6" cy="169.6" r="3.8"/><circle cx="236.0" cy="172.6" r="3.8"/><circle cx="221.2" cy="179.3" r="3.8"/><circle cx="229.3" cy="177.8" r="3.8"/><circle cx="216.7" cy="183.0" r="3.8"/><circle cx="215.3" cy="188.1" r="3.8"/><circle cx="223.4" cy="185.9" r="3.8"/><circle cx="236.0" cy="180.7" r="3.8"/><circle cx="241.2" cy="182.2" r="3.8"/><circle cx="231.6" cy="188.1" r="3.8"/><circle cx="229.3" cy="192.6" r="3.8"/><circle cx="236.7" cy="194.8" r="3.8"/><circle cx="248.6" cy="184.4" r="3.8"/><circle cx="247.9" cy="191.9" r="3.8"/><circle cx="251.6" cy="192.6" r="3.8"/><circle cx="246.4" cy="197.8" r="3.8"/><circle cx="218.2" cy="197.8" r="3.8"/><circle cx="229.3" cy="201.5" r="3.8"/><circle cx="235.3" cy="200.7" r="3.8"/><circle cx="239.0" cy="208.1" r="3.8"/><circle cx="220.9" cy="207.0" r="3.8"/><circle cx="225.6" cy="209.6" r="3.8"/><circle cx="229.8" cy="212.6" r="3.8"/><circle cx="227.1" cy="215.6" r="3.8"/><circle cx="265.9" cy="184.7" r="3.8"/><circle cx="271.9" cy="192.1" r="3.8"/><circle cx="261.2" cy="193.3" r="3.8"/><circle cx="259.7" cy="197.0" r="3.8"/><circle cx="261.2" cy="200.0" r="3.8"/><circle cx="265.6" cy="203.7" r="3.8"/><circle cx="270.8" cy="205.2" r="3.8"/><circle cx="275.3" cy="208.1" r="3.8"/><circle cx="264.9" cy="213.3" r="3.8"/><circle cx="273.0" cy="213.3" r="3.8"/><circle cx="255.3" cy="209.9" r="3.8"/><circle cx="247.6" cy="211.4" r="3.8"/><circle cx="243.4" cy="217.8" r="3.8"/><circle cx="253.8" cy="220.0" r="3.8"/><circle cx="250.8" cy="226.7" r="3.8"/><circle cx="258.2" cy="233.3" r="3.8"/><circle cx="265.9" cy="230.7" r="3.8"/><circle cx="292.3" cy="220.0" r="3.8"/><circle cx="296.4" cy="227.4" r="3.8"/><circle cx="203.1" cy="177.3" r="3.8"/><circle cx="201.2" cy="166.7" r="3.8"/><circle cx="205.6" cy="151.1" r="3.8"/><circle cx="207.9" cy="157.8" r="3.8"/><circle cx="200.4" cy="148.9" r="3.8"/><circle cx="213.0" cy="159.3" r="3.8"/><circle cx="220.4" cy="168.9" r="3.8"/><circle cx="223.4" cy="174.8" r="3.8"/><circle cx="218.2" cy="177.0" r="3.8"/><circle cx="230.1" cy="184.4" r="3.8"/><circle cx="233.0" cy="189.6" r="3.8"/><circle cx="227.1" cy="180.7" r="3.8"/><circle cx="239.0" cy="177.0" r="3.8"/><circle cx="243.4" cy="188.1" r="3.8"/><circle cx="241.2" cy="194.8" r="3.8"/><circle cx="239.7" cy="200.0" r="3.8"/><circle cx="244.9" cy="201.5" r="3.8"/><circle cx="253.0" cy="188.1" r="3.8"/><circle cx="263.4" cy="198.5" r="3.8"/><circle cx="268.6" cy="202.2" r="3.8"/><circle cx="268.6" cy="208.9" r="3.8"/><circle cx="241.2" cy="204.4" r="3.8"/><circle cx="159.7" cy="149.6" r="3.8"/><circle cx="164.1" cy="145.9" r="3.8"/><circle cx="183.4" cy="144.4" r="3.8"/><circle cx="176.7" cy="154.8" r="3.8"/><circle cx="194.8" cy="155.6" r="3.8"/><circle cx="189.3" cy="146.7" r="3.8"/><circle cx="193.8" cy="143.0" r="3.8"/><circle cx="219.7" cy="162.2" r="3.8"/><circle cx="233.0" cy="177.8" r="3.8"/><circle cx="246.4" cy="194.1" r="3.8"/><circle cx="256.7" cy="202.2" r="3.8"/><circle cx="261.9" cy="206.7" r="3.8"/><circle cx="145.5" cy="164.6" r="3.8"/><circle cx="146.9" cy="126.9" r="3.8"/><circle cx="152.5" cy="131.7" r="3.8"/><circle cx="157.2" cy="137.3" r="3.8"/><circle cx="161.4" cy="142.0" r="3.8"/><circle cx="165.6" cy="147.0" r="3.8"/><circle cx="156.4" cy="146.5" r="3.8"/><circle cx="148.8" cy="135.3" r="3.8"/><circle cx="169.8" cy="140.1" r="3.8"/><circle cx="175.4" cy="144.2" r="3.8"/><circle cx="181.0" cy="149.8" r="3.8"/><circle cx="172.6" cy="151.2" r="3.8"/><circle cx="168.4" cy="156.8" r="3.8"/><circle cx="178.2" cy="155.4" r="3.8"/><circle cx="186.6" cy="145.6" r="3.8"/><circle cx="196.3" cy="149.8" r="3.8"/><circle cx="203.3" cy="154.0" r="3.8"/><circle cx="197.7" cy="142.8" r="3.8"/><circle cx="206.1" cy="147.0" r="3.8"/><circle cx="211.7" cy="161.0" r="3.8"/><circle cx="217.3" cy="166.6" r="3.8"/><circle cx="208.9" cy="169.4" r="3.8"/><circle cx="221.5" cy="173.6" r="3.8"/><circle cx="225.7" cy="179.2" r="3.8"/><circle cx="231.3" cy="184.7" r="3.8"/><circle cx="220.1" cy="182.0" r="3.8"/><circle cx="236.8" cy="190.3" r="3.8"/><circle cx="242.4" cy="194.5" r="3.8"/><circle cx="246.6" cy="188.9" r="3.8"/><circle cx="253.6" cy="198.7" r="3.8"/><circle cx="259.2" cy="202.9" r="3.8"/><circle cx="264.8" cy="207.1" r="3.8"/><circle cx="250.8" cy="204.3" r="3.8"/><circle cx="234.0" cy="197.3" r="3.8"/><circle cx="227.1" cy="190.3" r="3.8"/><circle cx="244.1" cy="244.1" r="3.8"/><circle cx="260.4" cy="242.6" r="3.8"/><circle cx="272.7" cy="241.6" r="3.8"/></g>
<g clip-path="url(#cp)"><line class="dash" x1="20.7" y1="30.6" x2="382.3" y2="269.4"/><line x1="20.7" y1="27.8" x2="382.3" y2="296.8" stroke="#0f6d94" stroke-width="3.3"/></g>
<path class="ax" d="M50.7 4.4V281.4H352.3"/>
<path class="ax" d="M47.0 16.5H50.7M47.0 66.9H50.7M47.0 117.3H50.7M47.0 167.8H50.7M47.0 218.1H50.7M47.0 268.5H50.7M145.6 281.4V284.79999999999995M266.2 281.4V284.79999999999995"/>
<text class="t" style="font-size:12.8px" x="45.0" y="21.40" text-anchor="end">10.0</text>
<text class="t" style="font-size:12.8px" x="45.0" y="71.80" text-anchor="end">3.2</text>
<text class="t" style="font-size:12.8px" x="45.0" y="122.20" text-anchor="end">1.0</text>
<text class="t" style="font-size:12.8px" x="45.0" y="172.60" text-anchor="end">0.3</text>
<text class="t" style="font-size:12.8px" x="45.0" y="223.00" text-anchor="end">0.1</text>
<text class="t" style="font-size:12.8px" x="45.0" y="273.40" text-anchor="end">0</text>
<text class="t" style="font-size:12.8px" x="145.6" y="296.9" text-anchor="middle">10</text>
<text class="t" style="font-size:12.8px" x="266.2" y="296.9" text-anchor="middle">100</text>
<text class="t" x="132.7" y="314.2" textLength="155.2" lengthAdjust="spacingAndGlyphs">Maximum body length (cm)</text>
<text class="t" transform="translate(10.8,184.6) rotate(-90)"><tspan font-style="italic">K</tspan><tspan font-size="8.6px" dy="3.2">max</tspan><tspan dy="-3.2"> (year</tspan><tspan font-size="8px" dy="-4.5">−1</tspan><tspan dy="4.5">)</tspan></text>
<text class="t" x="62.3" y="270.4" textLength="175.8" lengthAdjust="spacingAndGlyphs">log<tspan font-size="8.4px" dy="3.2">10</tspan><tspan dy="-3.2">(</tspan><tspan font-style="italic">y</tspan>) = 0.86 − 0.89 × log<tspan font-size="8.4px" dy="3.2">10</tspan><tspan dy="-3.2">(</tspan><tspan font-style="italic">x</tspan>)</text>
<text class="t" x="139.6" y="16.5" textLength="219.9" lengthAdjust="spacingAndGlyphs">For example, Acanthuridae, Lutjanidae,</text>
<text class="t" x="171.9" y="31.6" textLength="160.9" lengthAdjust="spacingAndGlyphs">Pomacanthidae, Serranidae,</text>
<text class="t" x="166.3" y="47.0" textLength="167.0" lengthAdjust="spacingAndGlyphs">Chaetodontidae, Haemulidae</text>
<path d="M220.2 92.8L222.7 89.4L225.4 82.8L228.8 79.4L232.1 77.8L233.2 75.0L237.1 72.8L242.7 71.7L249.3 71.7L254.9 72.8L260.4 75.6L264.9 78.9L269.3 82.2L271.0 84.4L271.0 86.7L266.6 90.8L272.7 87.8L278.2 85.2L283.8 84.8L286.2 85.6L283.8 86.3L281.3 87.2L280.2 91.7L279.9 96.1L280.7 100.6L282.7 103.0L286.0 103.9L288.0 104.7L283.8 104.8L278.2 102.8L272.7 99.4L268.2 97.8L265.4 97.0L269.9 99.4L271.0 101.7L269.3 103.9L263.8 106.7L257.1 109.4L249.3 110.2L244.3 108.3L241.6 105.6L239.9 103.6L237.7 103.9L237.1 108.3L235.8 112.2L234.3 108.9L233.2 102.8L229.3 100.6L224.9 96.7L221.6 94.4Z" fill="#16688a"/>
</g>
<g transform="translate(728,0)">
<text class="lab" transform="translate(4.10,12.2) scale(1.15,1)">c</text>
<use href="#grey"/>
<g fill="#0ba7ce" stroke="#000" stroke-width="0.95"><circle cx="166.1" cy="110.6" r="3.8"/><circle cx="205.7" cy="109.8" r="3.8"/><circle cx="145.7" cy="124.6" r="3.8"/><circle cx="153.1" cy="120.2" r="3.8"/><circle cx="166.7" cy="121.4" r="3.8"/><circle cx="176.5" cy="122.1" r="3.8"/><circle cx="159.0" cy="128.3" r="3.8"/><circle cx="172.4" cy="128.3" r="3.8"/><circle cx="166.4" cy="126.1" r="3.8"/><circle cx="161.3" cy="132.8" r="3.8"/><circle cx="157.3" cy="138.4" r="3.8"/><circle cx="163.2" cy="142.1" r="3.8"/><circle cx="183.9" cy="134.3" r="3.8"/><circle cx="184.5" cy="140.2" r="3.8"/><circle cx="196.1" cy="136.8" r="3.8"/><circle cx="174.6" cy="145.8" r="3.8"/><circle cx="167.2" cy="150.6" r="3.8"/><circle cx="170.1" cy="151.7" r="3.8"/><circle cx="163.2" cy="157.2" r="3.8"/><circle cx="176.4" cy="159.7" r="3.8"/><circle cx="189.9" cy="148.3" r="3.8"/><circle cx="194.6" cy="145.4" r="3.8"/><circle cx="202.7" cy="143.6" r="3.8"/><circle cx="203.2" cy="147.6" r="3.8"/><circle cx="202.0" cy="155.7" r="3.8"/><circle cx="210.9" cy="155.4" r="3.8"/><circle cx="233.1" cy="146.6" r="3.8"/><circle cx="214.6" cy="160.9" r="3.8"/><circle cx="207.9" cy="163.9" r="3.8"/><circle cx="212.4" cy="166.1" r="3.8"/><circle cx="220.5" cy="165.4" r="3.8"/><circle cx="227.5" cy="164.6" r="3.8"/><circle cx="225.0" cy="170.6" r="3.8"/><circle cx="219.8" cy="168.3" r="3.8"/><circle cx="194.6" cy="167.6" r="3.8"/><circle cx="192.4" cy="169.1" r="3.8"/><circle cx="201.0" cy="172.8" r="3.8"/><circle cx="193.6" cy="180.2" r="3.8"/><circle cx="188.7" cy="182.4" r="3.8"/><circle cx="191.3" cy="185.1" r="3.8"/><circle cx="250.1" cy="185.4" r="3.8"/><circle cx="224.2" cy="186.9" r="3.8"/><circle cx="193.4" cy="196.5" r="3.8"/><circle cx="218.0" cy="192.8" r="3.8"/><circle cx="218.0" cy="199.4" r="3.8"/><circle cx="224.2" cy="197.2" r="3.8"/><circle cx="235.3" cy="197.2" r="3.8"/><circle cx="244.2" cy="194.0" r="3.8"/><circle cx="211.2" cy="208.8" r="3.8"/><circle cx="215.3" cy="216.2" r="3.8"/><circle cx="253.1" cy="211.7" r="3.8"/><circle cx="260.5" cy="223.6" r="3.8"/><circle cx="261.0" cy="236.5" r="3.8"/><circle cx="261.0" cy="247.6" r="3.8"/><circle cx="279.8" cy="244.2" r="3.8"/></g>
<g clip-path="url(#cp)"><line class="dash" x1="20.7" y1="30.6" x2="382.3" y2="269.4"/><line x1="20.7" y1="8.6" x2="382.3" y2="319.9" stroke="#0ba7ce" stroke-width="3.3"/></g>
<path class="ax" d="M50.7 4.4V281.4H352.3"/>
<path class="ax" d="M47.0 16.5H50.7M47.0 66.9H50.7M47.0 117.3H50.7M47.0 167.8H50.7M47.0 218.1H50.7M47.0 268.5H50.7M145.6 281.4V284.79999999999995M266.2 281.4V284.79999999999995"/>
<text class="t" style="font-size:12.8px" x="43.8" y="21.40" text-anchor="end">10.0</text>
<text class="t" style="font-size:12.8px" x="43.8" y="71.80" text-anchor="end">3.2</text>
<text class="t" style="font-size:12.8px" x="43.8" y="122.20" text-anchor="end">1.0</text>
<text class="t" style="font-size:12.8px" x="43.8" y="172.60" text-anchor="end">0.3</text>
<text class="t" style="font-size:12.8px" x="43.8" y="223.00" text-anchor="end">0.1</text>
<text class="t" style="font-size:12.8px" x="43.8" y="273.40" text-anchor="end">0</text>
<text class="t" style="font-size:12.8px" x="145.6" y="296.9" text-anchor="middle">10</text>
<text class="t" style="font-size:12.8px" x="266.2" y="296.9" text-anchor="middle">100</text>
<text class="t" x="133.4" y="314.2" textLength="155.2" lengthAdjust="spacingAndGlyphs">Maximum body length (cm)</text>
<text class="t" transform="translate(9.8,184.6) rotate(-90)"><tspan font-style="italic">K</tspan><tspan font-size="8.6px" dy="3.2">max</tspan><tspan dy="-3.2"> (year</tspan><tspan font-size="8px" dy="-4.5">−1</tspan><tspan dy="4.5">)</tspan></text>
<text class="t" x="63.3" y="270.4" textLength="175.8" lengthAdjust="spacingAndGlyphs">log<tspan font-size="8.4px" dy="3.2">10</tspan><tspan dy="-3.2">(</tspan><tspan font-style="italic">y</tspan>) = 1.04 − 1.03 × log<tspan font-size="8.4px" dy="3.2">10</tspan><tspan dy="-3.2">(</tspan><tspan font-style="italic">x</tspan>)</text>
<text class="t" x="240.8" y="16.6" textLength="50.3" lengthAdjust="spacingAndGlyphs">Labridae</text>
<path d="M230.5 52.8L238.1 47.2L245.8 44.2L247.8 38.9L249.9 36.8L248.9 41.4L257.6 39.6L267.3 39.2L277.0 40.3L285.3 43.8L288.8 46.2L290.9 47.9L297.8 44.4L300.6 48.6L301.3 54.2L299.9 59.0L297.8 60.4L290.9 57.6L286.7 57.6L289.5 59.7L282.6 63.9L274.2 66.4L265.9 66.9L260.3 65.3L257.6 62.5L249.9 61.1L253.7 67.4L249.2 64.6L246.4 61.1L239.5 58.3L233.2 54.9Z" fill="#12a1c6"/>
</g>
<g transform="translate(0,327.2)">
<text class="lab" transform="translate(0.85,12.2) scale(1.15,1)">d</text>
<use href="#grey"/>
<g fill="#f4691a" stroke="#000" stroke-width="0.95"><circle cx="98.3" cy="25.9" r="3.8"/><circle cx="91.3" cy="31.1" r="3.8"/><circle cx="85.8" cy="35.9" r="3.8"/><circle cx="100.5" cy="53.1" r="3.8"/><circle cx="108.6" cy="49.7" r="3.8"/><circle cx="107.1" cy="54.5" r="3.8"/><circle cx="111.0" cy="56.6" r="3.8"/><circle cx="134.6" cy="51.9" r="3.8"/><circle cx="112.0" cy="63.4" r="3.8"/><circle cx="126.1" cy="61.8" r="3.8"/><circle cx="118.7" cy="68.9" r="3.8"/><circle cx="127.6" cy="71.9" r="3.8"/><circle cx="119.0" cy="76.3" r="3.8"/><circle cx="126.1" cy="79.3" r="3.8"/><circle cx="103.9" cy="81.5" r="3.8"/><circle cx="109.8" cy="82.2" r="3.8"/><circle cx="109.5" cy="78.8" r="3.8"/><circle cx="127.3" cy="84.2" r="3.8"/><circle cx="132.0" cy="86.7" r="3.8"/><circle cx="136.8" cy="88.6" r="3.8"/><circle cx="145.4" cy="93.4" r="3.8"/><circle cx="174.6" cy="92.3" r="3.8"/><circle cx="127.9" cy="98.5" r="3.8"/><circle cx="138.7" cy="97.8" r="3.8"/><circle cx="148.0" cy="98.5" r="3.8"/><circle cx="150.6" cy="103.0" r="3.8"/><circle cx="140.2" cy="103.7" r="3.8"/><circle cx="133.4" cy="106.1" r="3.8"/><circle cx="156.4" cy="106.7" r="3.8"/><circle cx="163.8" cy="107.6" r="3.8"/><circle cx="145.7" cy="106.9" r="3.8"/><circle cx="164.3" cy="112.1" r="3.8"/><circle cx="153.1" cy="112.1" r="3.8"/><circle cx="158.3" cy="115.8" r="3.8"/><circle cx="144.3" cy="117.2" r="3.8"/><circle cx="148.0" cy="120.9" r="3.8"/><circle cx="153.9" cy="120.2" r="3.8"/><circle cx="165.0" cy="121.7" r="3.8"/><circle cx="123.5" cy="120.5" r="3.8"/><circle cx="148.7" cy="127.6" r="3.8"/><circle cx="157.6" cy="128.4" r="3.8"/><circle cx="163.5" cy="132.1" r="3.8"/><circle cx="168.0" cy="130.6" r="3.8"/><circle cx="175.7" cy="127.2" r="3.8"/><circle cx="175.1" cy="132.1" r="3.8"/><circle cx="169.4" cy="136.5" r="3.8"/><circle cx="176.9" cy="138.7" r="3.8"/><circle cx="188.4" cy="140.9" r="3.8"/><circle cx="134.2" cy="132.4" r="3.8"/><circle cx="130.9" cy="135.0" r="3.8"/><circle cx="132.4" cy="141.7" r="3.8"/><circle cx="133.9" cy="145.4" r="3.8"/><circle cx="139.8" cy="143.9" r="3.8"/><circle cx="146.0" cy="139.0" r="3.8"/><circle cx="155.8" cy="140.9" r="3.8"/><circle cx="157.6" cy="147.9" r="3.8"/><circle cx="150.9" cy="151.0" r="3.8"/><circle cx="175.7" cy="152.1" r="3.8"/><circle cx="165.7" cy="157.2" r="3.8"/><circle cx="163.5" cy="162.7" r="3.8"/><circle cx="139.8" cy="164.7" r="3.8"/><circle cx="192.0" cy="158.0" r="3.8"/><circle cx="182.0" cy="170.6" r="3.8"/><circle cx="203.2" cy="182.7" r="3.8"/><circle cx="150.9" cy="124.7" r="3.8"/><circle cx="159.8" cy="123.2" r="3.8"/><circle cx="154.6" cy="135.8" r="3.8"/><circle cx="165.0" cy="137.2" r="3.8"/><circle cx="171.7" cy="135.8" r="3.8"/><circle cx="147.2" cy="112.1" r="3.8"/><circle cx="159.1" cy="109.1" r="3.8"/><circle cx="142.0" cy="119.5" r="3.8"/><circle cx="152.4" cy="116.5" r="3.8"/><circle cx="162.0" cy="126.9" r="3.8"/><circle cx="224.5" cy="190.5" r="3.8"/><circle cx="233.0" cy="194.7" r="3.8"/></g>
<g clip-path="url(#cp)"><line class="dash" x1="20.7" y1="30.6" x2="382.3" y2="269.4"/><line x1="20.7" y1="-25.7" x2="382.3" y2="370.2" stroke="#f4691a" stroke-width="3.3"/></g>
<path class="ax" d="M50.7 4.4V281.4H352.3"/>
<path class="ax" d="M47.0 16.5H50.7M47.0 66.9H50.7M47.0 117.3H50.7M47.0 167.8H50.7M47.0 218.1H50.7M47.0 268.5H50.7M145.6 281.4V284.79999999999995M266.2 281.4V284.79999999999995"/>
<text class="t" style="font-size:12.8px" x="44.8" y="21.40" text-anchor="end">10.0</text>
<text class="t" style="font-size:12.8px" x="44.8" y="71.80" text-anchor="end">3.2</text>
<text class="t" style="font-size:12.8px" x="44.8" y="122.20" text-anchor="end">1.0</text>
<text class="t" style="font-size:12.8px" x="44.8" y="172.60" text-anchor="end">0.3</text>
<text class="t" style="font-size:12.8px" x="44.8" y="223.00" text-anchor="end">0.1</text>
<text class="t" style="font-size:12.8px" x="44.8" y="273.40" text-anchor="end">0</text>
<text class="t" style="font-size:12.8px" x="145.6" y="296.9" text-anchor="middle">10</text>
<text class="t" style="font-size:12.8px" x="266.2" y="296.9" text-anchor="middle">100</text>
<text class="t" x="128.9" y="313.8" textLength="155.2" lengthAdjust="spacingAndGlyphs">Maximum body length (cm)</text>
<text class="t" transform="translate(10.6,184.6) rotate(-90)"><tspan font-style="italic">K</tspan><tspan font-size="8.6px" dy="3.2">max</tspan><tspan dy="-3.2"> (year</tspan><tspan font-size="8px" dy="-4.5">−1</tspan><tspan dy="4.5">)</tspan></text>
<text class="t" x="66.0" y="269.4" textLength="176.0" lengthAdjust="spacingAndGlyphs">log<tspan font-size="8.4px" dy="3.2">10</tspan><tspan dy="-3.2">(</tspan><tspan font-style="italic">y</tspan>) = 1.37 − 1.31 × log<tspan font-size="8.4px" dy="3.2">10</tspan><tspan dy="-3.2">(</tspan><tspan font-style="italic">x</tspan>)</text>
<text class="t" x="126.7" y="24.6" textLength="231.0" lengthAdjust="spacingAndGlyphs">For example, Blenniidae, Pomacentridae,</text>
<text class="t" x="161.8" y="39.8" textLength="160.7" lengthAdjust="spacingAndGlyphs">Tripterygiidae, Grammatidae</text>
<path d="M211.9 70.6L212.2 67.2L213.9 64.5L215.2 63.7L215.9 65.6L221.7 63.7L224.1 62.8L225.6 59.5L227.4 57.5L232.8 58.4L239.4 59.5L243.9 60.6L247.2 59.7L252.8 60.4L257.2 61.9L260.6 63.9L262.2 66.7L266.1 66.1L271.1 65.6L271.7 68.4L272.4 71.9L271.4 75.8L266.1 75.0L262.2 74.5L260.0 75.6L255.0 78.4L248.3 80.6L242.8 80.8L240.0 78.4L237.2 78.1L228.3 79.2L227.8 81.1L226.3 81.5L224.1 79.5L222.2 78.1L217.2 76.1L213.3 73.9L211.9 72.2Z" fill="#f06522"/>
</g>
<g transform="translate(364,327.2)">
<text class="lab" transform="translate(2.30,12.2) scale(1.15,1)">e</text>
<use href="#grey"/>
<g fill="#f0cb0c" stroke="#000" stroke-width="0.95"><circle cx="193.4" cy="135.3" r="3.8"/><circle cx="199.8" cy="145.2" r="3.8"/><circle cx="203.0" cy="141.5" r="3.8"/><circle cx="229.0" cy="164.5" r="3.8"/><circle cx="237.9" cy="169.9" r="3.8"/><circle cx="229.0" cy="172.9" r="3.8"/><circle cx="226.0" cy="176.3" r="3.8"/><circle cx="227.0" cy="181.5" r="3.8"/><circle cx="212.7" cy="180.8" r="3.8"/><circle cx="209.3" cy="185.7" r="3.8"/><circle cx="218.1" cy="190.7" r="3.8"/><circle cx="235.6" cy="188.9" r="3.8"/><circle cx="231.9" cy="192.6" r="3.8"/><circle cx="239.3" cy="193.4" r="3.8"/><circle cx="245.3" cy="190.4" r="3.8"/><circle cx="243.8" cy="197.8" r="3.8"/><circle cx="226.0" cy="196.6" r="3.8"/><circle cx="212.7" cy="200.5" r="3.8"/><circle cx="230.0" cy="203.7" r="3.8"/><circle cx="225.3" cy="204.8" r="3.8"/><circle cx="218.1" cy="207.9" r="3.8"/><circle cx="238.9" cy="207.4" r="3.8"/><circle cx="247.5" cy="203.0" r="3.8"/><circle cx="251.9" cy="205.2" r="3.8"/><circle cx="224.5" cy="211.9" r="3.8"/><circle cx="251.2" cy="211.1" r="3.8"/><circle cx="237.8" cy="216.2" r="3.8"/><circle cx="256.0" cy="213.7" r="3.8"/><circle cx="277.8" cy="222.6" r="3.8"/><circle cx="275.7" cy="233.4" r="3.8"/><circle cx="224.1" cy="230.3" r="3.8"/><circle cx="260.4" cy="254.2" r="3.8"/><circle cx="287.1" cy="268.8" r="3.8"/></g>
<g clip-path="url(#cp)"><line class="dash" x1="20.7" y1="30.6" x2="382.3" y2="269.4"/><line x1="20.7" y1="-51.1" x2="382.3" y2="362.9" stroke="#f0cb0c" stroke-width="3.3"/></g>
<path class="ax" d="M50.7 4.4V281.4H352.3"/>
<path class="ax" d="M47.0 16.5H50.7M47.0 66.9H50.7M47.0 117.3H50.7M47.0 167.8H50.7M47.0 218.1H50.7M47.0 268.5H50.7M145.6 281.4V284.79999999999995M266.2 281.4V284.79999999999995"/>
<text class="t" style="font-size:12.8px" x="44.8" y="21.40" text-anchor="end">10.0</text>
<text class="t" style="font-size:12.8px" x="44.8" y="71.80" text-anchor="end">3.2</text>
<text class="t" style="font-size:12.8px" x="44.8" y="122.20" text-anchor="end">1.0</text>
<text class="t" style="font-size:12.8px" x="44.8" y="172.60" text-anchor="end">0.3</text>
<text class="t" style="font-size:12.8px" x="44.8" y="223.00" text-anchor="end">0.1</text>
<text class="t" style="font-size:12.8px" x="44.8" y="273.40" text-anchor="end">0</text>
<text class="t" style="font-size:12.8px" x="145.6" y="296.9" text-anchor="middle">10</text>
<text class="t" style="font-size:12.8px" x="266.2" y="296.9" text-anchor="middle">100</text>
<text class="t" x="131.0" y="313.8" textLength="155.2" lengthAdjust="spacingAndGlyphs">Maximum body length (cm)</text>
<text class="t" transform="translate(10.6,184.6) rotate(-90)"><tspan font-style="italic">K</tspan><tspan font-size="8.6px" dy="3.2">max</tspan><tspan dy="-3.2"> (year</tspan><tspan font-size="8px" dy="-4.5">−1</tspan><tspan dy="4.5">)</tspan></text>
<text class="t" x="62.5" y="269.4" textLength="176.0" lengthAdjust="spacingAndGlyphs">log<tspan font-size="8.4px" dy="3.2">10</tspan><tspan dy="-3.2">(</tspan><tspan font-style="italic">y</tspan>) = 1.62 − 1.37 × log<tspan font-size="8.4px" dy="3.2">10</tspan><tspan dy="-3.2">(</tspan><tspan font-style="italic">x</tspan>)</text>
<text class="t" x="188.2" y="24.7" textLength="150.1" lengthAdjust="spacingAndGlyphs">Lethrinidae, Nemipteridae,</text>
<text class="t" x="191.9" y="39.9" textLength="141.9" lengthAdjust="spacingAndGlyphs">Sparidae, Malacanthidae</text>
<path d="M224.3 76.1L226.6 72.8L231.0 67.8L236.6 62.8L242.7 59.5L243.2 56.1L246.6 54.5L249.3 52.2L252.7 51.7L256.6 52.0L261.0 53.9L265.4 56.1L269.9 58.4L273.2 60.0L277.7 60.6L281.0 62.8L283.2 65.6L283.4 68.4L281.0 70.0L284.9 70.4L288.8 68.4L294.3 65.6L299.9 63.9L302.1 63.9L299.9 68.4L297.1 73.4L298.8 77.8L301.2 83.4L297.7 82.8L292.1 80.6L287.7 78.4L283.2 77.8L280.4 78.4L284.1 79.1L282.1 82.2L277.7 85.6L273.2 87.8L272.1 90.6L268.8 88.9L266.6 87.2L265.4 86.7L259.9 86.1L256.0 86.7L255.4 91.1L253.8 95.6L252.3 97.8L249.9 93.4L248.2 87.8L247.9 85.6L239.9 83.4L233.2 81.1L227.7 78.9L224.6 77.2Z" fill="#efc71a"/>
</g>
<g transform="translate(728,327.2)">
<text class="lab" transform="translate(0.90,12.2) scale(1.15,1)">f</text>
<use href="#grey"/>
<g fill="#e41a1c" stroke="#000" stroke-width="0.95"><circle cx="64.1" cy="16.7" r="3.8"/><circle cx="77.9" cy="22.6" r="3.8"/><circle cx="73.5" cy="26.3" r="3.8"/><circle cx="72.7" cy="30.8" r="3.8"/><circle cx="83.1" cy="27.1" r="3.8"/><circle cx="82.7" cy="34.5" r="3.8"/><circle cx="95.3" cy="32.2" r="3.8"/><circle cx="103.1" cy="31.5" r="3.8"/><circle cx="110.8" cy="34.9" r="3.8"/><circle cx="108.3" cy="41.9" r="3.8"/><circle cx="99.1" cy="46.0" r="3.8"/><circle cx="106.8" cy="55.2" r="3.8"/><circle cx="112.4" cy="53.0" r="3.8"/><circle cx="119.0" cy="53.7" r="3.8"/><circle cx="119.0" cy="66.3" r="3.8"/><circle cx="126.1" cy="68.1" r="3.8"/><circle cx="122.8" cy="70.0" r="3.8"/><circle cx="109.5" cy="75.2" r="3.8"/><circle cx="142.7" cy="75.7" r="3.8"/><circle cx="146.5" cy="73.7" r="3.8"/><circle cx="149.0" cy="76.7" r="3.8"/><circle cx="146.1" cy="81.1" r="3.8"/><circle cx="157.5" cy="84.5" r="3.8"/><circle cx="114.2" cy="87.1" r="3.8"/><circle cx="121.9" cy="86.3" r="3.8"/><circle cx="120.4" cy="89.0" r="3.8"/><circle cx="133.2" cy="89.6" r="3.8"/><circle cx="136.7" cy="94.5" r="3.8"/><circle cx="133.5" cy="97.9" r="3.8"/><circle cx="148.6" cy="92.5" r="3.8"/><circle cx="158.7" cy="93.0" r="3.8"/><circle cx="149.8" cy="97.4" r="3.8"/><circle cx="133.9" cy="105.0" r="3.8"/><circle cx="143.1" cy="106.5" r="3.8"/><circle cx="151.3" cy="101.8" r="3.8"/><circle cx="156.4" cy="105.0" r="3.8"/><circle cx="156.7" cy="110.2" r="3.8"/><circle cx="149.0" cy="111.7" r="3.8"/><circle cx="157.2" cy="115.4" r="3.8"/><circle cx="167.1" cy="104.6" r="3.8"/><circle cx="123.1" cy="115.4" r="3.8"/><circle cx="144.9" cy="119.5" r="3.8"/><circle cx="155.7" cy="121.3" r="3.8"/><circle cx="161.3" cy="121.6" r="3.8"/><circle cx="150.5" cy="126.2" r="3.8"/><circle cx="160.1" cy="129.5" r="3.8"/><circle cx="181.9" cy="129.5" r="3.8"/><circle cx="122.4" cy="138.7" r="3.8"/><circle cx="133.9" cy="140.9" r="3.8"/><circle cx="145.6" cy="137.9" r="3.8"/><circle cx="145.6" cy="143.5" r="3.8"/><circle cx="159.4" cy="137.2" r="3.8"/><circle cx="166.8" cy="142.1" r="3.8"/><circle cx="166.8" cy="144.7" r="3.8"/><circle cx="163.9" cy="147.5" r="3.8"/><circle cx="197.6" cy="150.9" r="3.8"/><circle cx="140.1" cy="155.8" r="3.8"/><circle cx="176.1" cy="158.1" r="3.8"/></g>
<g clip-path="url(#cp)"><line class="dash" x1="20.7" y1="30.6" x2="382.3" y2="269.4"/><line x1="20.7" y1="-40.1" x2="382.3" y2="383.0" stroke="#e41a1c" stroke-width="3.3"/></g>
<path class="ax" d="M50.7 4.4V281.4H352.3"/>
<path class="ax" d="M47.0 16.5H50.7M47.0 66.9H50.7M47.0 117.3H50.7M47.0 167.8H50.7M47.0 218.1H50.7M47.0 268.5H50.7M145.6 281.4V284.79999999999995M266.2 281.4V284.79999999999995"/>
<text class="t" style="font-size:12.8px" x="43.8" y="21.40" text-anchor="end">10.0</text>
<text class="t" style="font-size:12.8px" x="43.8" y="71.80" text-anchor="end">3.2</text>
<text class="t" style="font-size:12.8px" x="43.8" y="122.20" text-anchor="end">1.0</text>
<text class="t" style="font-size:12.8px" x="43.8" y="172.60" text-anchor="end">0.3</text>
<text class="t" style="font-size:12.8px" x="43.8" y="223.00" text-anchor="end">0.1</text>
<text class="t" style="font-size:12.8px" x="43.8" y="273.40" text-anchor="end">0</text>
<text class="t" style="font-size:12.8px" x="145.6" y="296.9" text-anchor="middle">10</text>
<text class="t" style="font-size:12.8px" x="266.2" y="296.9" text-anchor="middle">100</text>
<text class="t" x="131.5" y="313.8" textLength="155.2" lengthAdjust="spacingAndGlyphs">Maximum body length (cm)</text>
<text class="t" transform="translate(9.8,184.6) rotate(-90)"><tspan font-style="italic">K</tspan><tspan font-size="8.6px" dy="3.2">max</tspan><tspan dy="-3.2"> (year</tspan><tspan font-size="8px" dy="-4.5">−1</tspan><tspan dy="4.5">)</tspan></text>
<text class="t" x="63.3" y="269.4" textLength="168.8" lengthAdjust="spacingAndGlyphs">log<tspan font-size="8.4px" dy="3.2">10</tspan><tspan dy="-3.2">(</tspan><tspan font-style="italic">y</tspan>) = 1.51 − 1.4 × log<tspan font-size="8.4px" dy="3.2">10</tspan><tspan dy="-3.2">(</tspan><tspan font-style="italic">x</tspan>)</text>
<text class="t" x="200.4" y="24.7" textLength="130.5" lengthAdjust="spacingAndGlyphs">Gobiidae, Apogonidae,</text>
<text class="t" x="222.0" y="39.9" textLength="88.1" lengthAdjust="spacingAndGlyphs">Microdesmidae</text>
<path d="M235.3 71.1L235.9 68.4L238.1 66.1L243.1 65.0L248.7 64.5L251.8 64.2L252.2 60.0L253.7 58.0L257.6 58.0L260.9 59.5L263.7 61.7L264.2 62.8L267.6 61.4L272.0 61.1L277.6 62.8L283.1 65.0L284.2 66.1L278.7 68.0L284.2 67.2L288.7 65.6L292.6 66.1L295.3 68.4L296.1 71.1L294.8 75.0L291.4 77.2L287.6 77.2L283.1 75.6L278.7 75.0L283.1 77.2L280.9 78.9L276.4 79.8L270.9 79.5L267.0 78.4L265.3 76.1L260.9 76.1L254.2 76.7L256.4 78.4L259.8 81.1L255.3 81.5L252.0 80.0L250.0 76.7L245.3 75.6L239.8 75.0L236.2 73.9Z" fill="#e02027"/>
</g>
</svg></body></html>
